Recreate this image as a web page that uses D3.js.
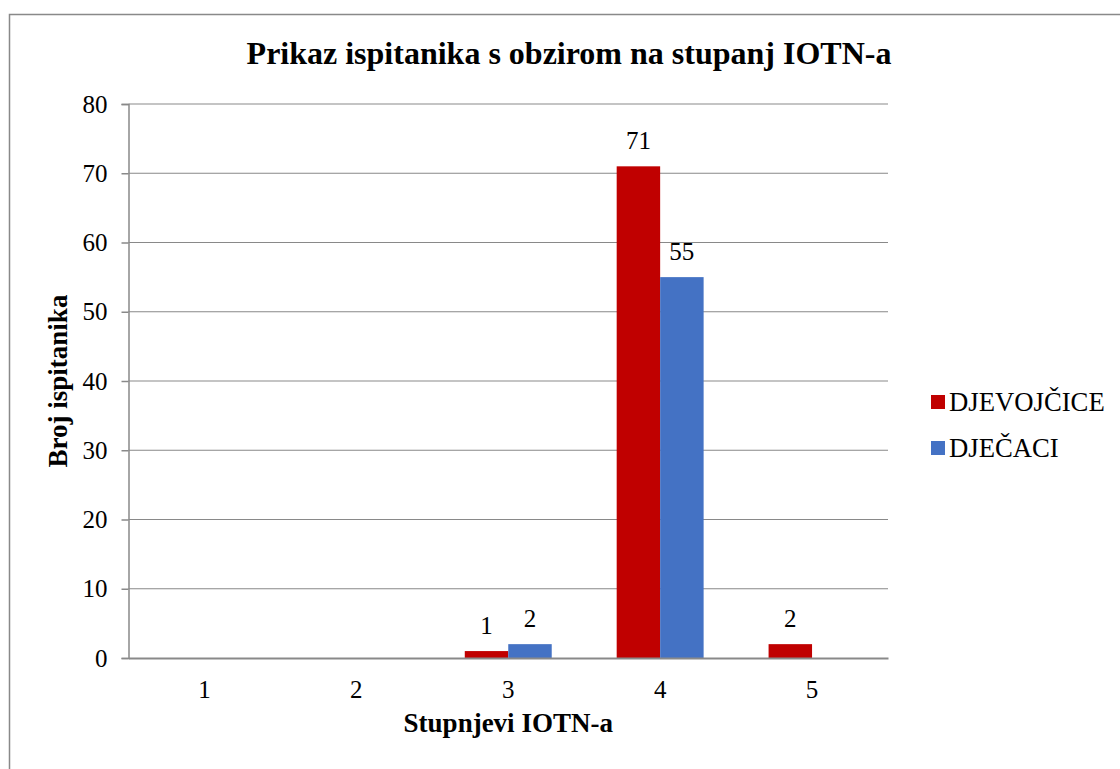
<!DOCTYPE html>
<html><head><meta charset="utf-8">
<script src="https://cdn.jsdelivr.net/npm/d3@7"></script>
<style>body{margin:0;background:#fff;} svg{display:block;}</style>
</head><body>
<script>
const categories = ["1","2","3","4","5"];
const seriesNames = ["DJEVOJČICE","DJEČACI"];
const djevojcice = [0,0,1,71,2];
const djecaci = [0,0,2,55,0];
const yTicks = [0,10,20,30,40,50,60,70,80];
const colors = ["#C00000","#4472C4"];
const seriesValues = [djevojcice, djecaci];

const W=1120,H=769;
const svg=d3.select("body").append("svg").attr("width",W).attr("height",H);
const font="'Liberation Serif','Times New Roman',serif";

svg.append("rect").attr("x",9.5).attr("y",14.5).attr("width",1200).attr("height",900)
  .attr("fill","#fff").attr("stroke","#898989").attr("stroke-width",1.5);

const m={left:128.5,right:888,top:104,bottom:658};
const x0=d3.scaleBand().domain(categories).range([m.left,m.right]).paddingInner(0).paddingOuter(0);
const bw=x0.bandwidth();
const gapFrac=(152-87)/152;
const x1=d3.scaleBand().domain(seriesNames).range([bw*gapFrac/2,bw-bw*gapFrac/2]);
const y=d3.scaleLinear().domain([0,80]).range([m.bottom,m.top]);

// gridlines
svg.append("g").selectAll("line").data(yTicks.filter(d=>d>0)).join("line")
  .attr("x1",m.left).attr("x2",m.right).attr("y1",d=>y(d)).attr("y2",d=>y(d))
  .attr("stroke","#898989").attr("stroke-width",1.2);

// y axis
const yAxis=svg.append("g").attr("transform",`translate(${m.left},0)`)
  .call(d3.axisLeft(y).tickValues(yTicks).tickSize(7).tickPadding(14));
yAxis.select(".domain").attr("stroke","#898989").attr("stroke-width",1.5);
yAxis.selectAll(".tick line").attr("stroke","#898989").attr("stroke-width",1.5);
yAxis.selectAll("text").attr("font-family",font).attr("font-size",25).attr("fill","#000");

// bars
const groups=svg.append("g").selectAll("g").data(categories).join("g")
  .attr("transform",d=>`translate(${x0(d)},0)`);
groups.selectAll("rect").data((c,i)=>seriesNames.map((s,j)=>({s,j,v:seriesValues[j][i]})))
  .join("rect")
  .attr("x",d=>x1(d.s)).attr("width",x1.bandwidth())
  .attr("y",d=>y(d.v)).attr("height",d=>y(0)-y(d.v))
  .attr("fill",d=>colors[d.j]);
groups.selectAll("text").data((c,i)=>seriesNames.map((s,j)=>({s,j,v:seriesValues[j][i]})).filter(d=>d.v>0))
  .join("text")
  .attr("x",d=>x1(d.s)+x1.bandwidth()/2).attr("y",d=>y(d.v)-17)
  .attr("text-anchor","middle").attr("font-family",font).attr("font-size",25).attr("fill","#000")
  .text(d=>d.v);

// x axis
const xAxis=svg.append("g").attr("transform",`translate(0,${m.bottom})`)
  .call(d3.axisBottom(x0).tickSize(0).tickPadding(22));
xAxis.select(".domain").attr("stroke","#898989").attr("stroke-width",2.2);
xAxis.selectAll("text").attr("font-family",font).attr("font-size",25).attr("fill","#000");

// title
svg.append("text").attr("x",569).attr("y",64).attr("text-anchor","middle")
  .attr("font-family",font).attr("font-weight","bold").attr("font-size",32)
  .text("Prikaz ispitanika s obzirom na stupanj IOTN-a");
svg.append("text").attr("x",(m.left+m.right)/2).attr("y",732).attr("text-anchor","middle")
  .attr("font-family",font).attr("font-weight","bold").attr("font-size",27)
  .text("Stupnjevi IOTN-a");
svg.append("text").attr("transform","translate(67,381) rotate(-90)").attr("text-anchor","middle")
  .attr("font-family",font).attr("font-weight","bold").attr("font-size",27)
  .text("Broj ispitanika");

// legend
const lg=svg.append("g").selectAll("g").data(seriesNames).join("g")
  .attr("transform",(d,i)=>`translate(931,${395+i*46})`);
lg.append("rect").attr("width",14).attr("height",14).attr("fill",(d,i)=>colors[i]);
lg.append("text").attr("x",18).attr("y",15.5).attr("font-family",font).attr("font-size",26.7).text(d=>d);
</script>
</body></html>
